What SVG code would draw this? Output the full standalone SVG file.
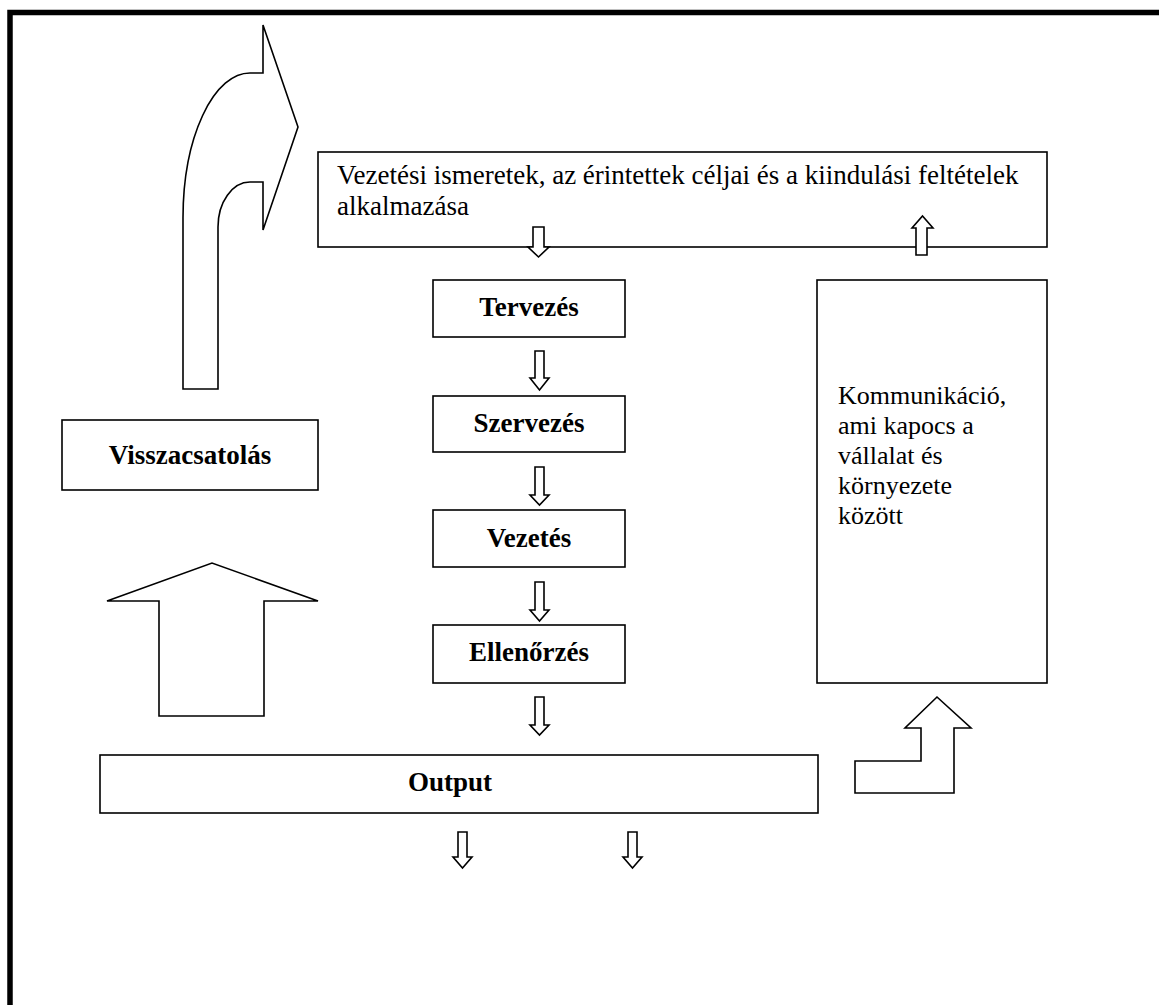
<svg xmlns="http://www.w3.org/2000/svg" width="1159" height="1005" viewBox="0 0 1159 1005">
  <style>
    .box { fill: #fff; stroke: #000; stroke-width: 1.6; }
    .shape { fill: #fff; stroke: #000; stroke-width: 1.6; stroke-linejoin: miter; }
    .txt { font-family: "Liberation Serif", "Times New Roman", serif; font-size: 27px; fill: #000; }
    .small { font-size: 26px; }
    .bold { font-weight: bold; text-anchor: middle; }
  </style>
  <rect width="1159" height="1005" fill="#fff"/>
  <!-- outer frame (left and top edges visible) -->
  <path d="M10,1005 V12.5 H1159" fill="none" stroke="#000" stroke-width="5.5"/>

  <g id="input">
    <rect class="box" x="318" y="152" width="729" height="95"/>
    <text class="txt" x="337" y="184">Vezetési ismeretek, az érintettek céljai és a kiindulási feltételek</text>
    <text class="txt" x="337" y="215">alkalmazása</text>
  </g>

  <g id="tervezes">
    <rect class="box" x="433" y="280" width="192" height="57"/>
    <text class="txt bold" x="529" y="316">Tervezés</text>
  </g>
  <g id="szervezes">
    <rect class="box" x="433" y="396" width="192" height="56"/>
    <text class="txt bold" x="529" y="432">Szervezés</text>
  </g>
  <g id="vezetes">
    <rect class="box" x="433" y="510" width="192" height="57"/>
    <text class="txt bold" x="529" y="547">Vezetés</text>
  </g>
  <g id="ellenorzes">
    <rect class="box" x="433" y="625" width="192" height="58"/>
    <text class="txt bold" x="529" y="661">Ellenőrzés</text>
  </g>
  <g id="output">
    <rect class="box" x="100" y="755" width="718" height="58"/>
    <text class="txt bold" x="450" y="791">Output</text>
  </g>
  <g id="visszacsatolas">
    <rect class="box" x="62" y="420" width="256" height="70"/>
    <text class="txt bold" x="190" y="464">Visszacsatolás</text>
  </g>
  <g id="kommunikacio">
    <rect class="box" x="817" y="280" width="230" height="403"/>
    <text class="txt small" x="838" y="404">Kommunikáció,</text>
    <text class="txt small" x="838" y="434">ami kapocs a</text>
    <text class="txt small" x="838" y="464">vállalat és</text>
    <text class="txt small" x="838" y="494">környezete</text>
    <text class="txt small" x="838" y="524">között</text>
  </g>

  <g id="connectors">
    <!-- curved feedback arrow turning right into the input box -->
    <path class="shape" d="M183,389 V218 A67,145 0 0 1 250,73 H263 V25 L298,127 L263,230 V182 H250 A32,45 0 0 0 218,227 V389 Z"/>
    <!-- large up arrow from output towards feedback -->
    <path class="shape" d="M159,716 H264 V601 H318 L212,563 L107,601 H159 Z"/>
    <!-- bent arrow from output up to communication -->
    <path class="shape" d="M855,793 H954 V728 H971 L937,697 L905,728 H921 V761 H855 Z"/>
    <!-- small down arrows along the process chain -->
    <path class="shape" d="M533,227 H544 V247 H549 L538.5,257 L528,247 H533 Z"/>
    <path class="shape" d="M535,351 H544 V378 H549 L539.5,390 L530,378 H535 Z"/>
    <path class="shape" d="M535,467 H544 V495 H549 L539.5,505 L530,495 H535 Z"/>
    <path class="shape" d="M535,582 H544 V610 H549 L539.5,621 L530,610 H535 Z"/>
    <path class="shape" d="M535,697 H544 V725 H549 L539.5,735 L530,725 H535 Z"/>
    <!-- output arrows -->
    <path class="shape" d="M458,832 H467 V857 H472 L462.5,868 L453,857 H458 Z"/>
    <path class="shape" d="M628,832 H637 V857 H642 L632.5,868 L623,857 H628 Z"/>
    <!-- small up arrow into the input box -->
    <path class="shape" d="M916,255 H927 V228 H933 L922.5,216 L912,228 H916 Z"/>
  </g>
</svg>
